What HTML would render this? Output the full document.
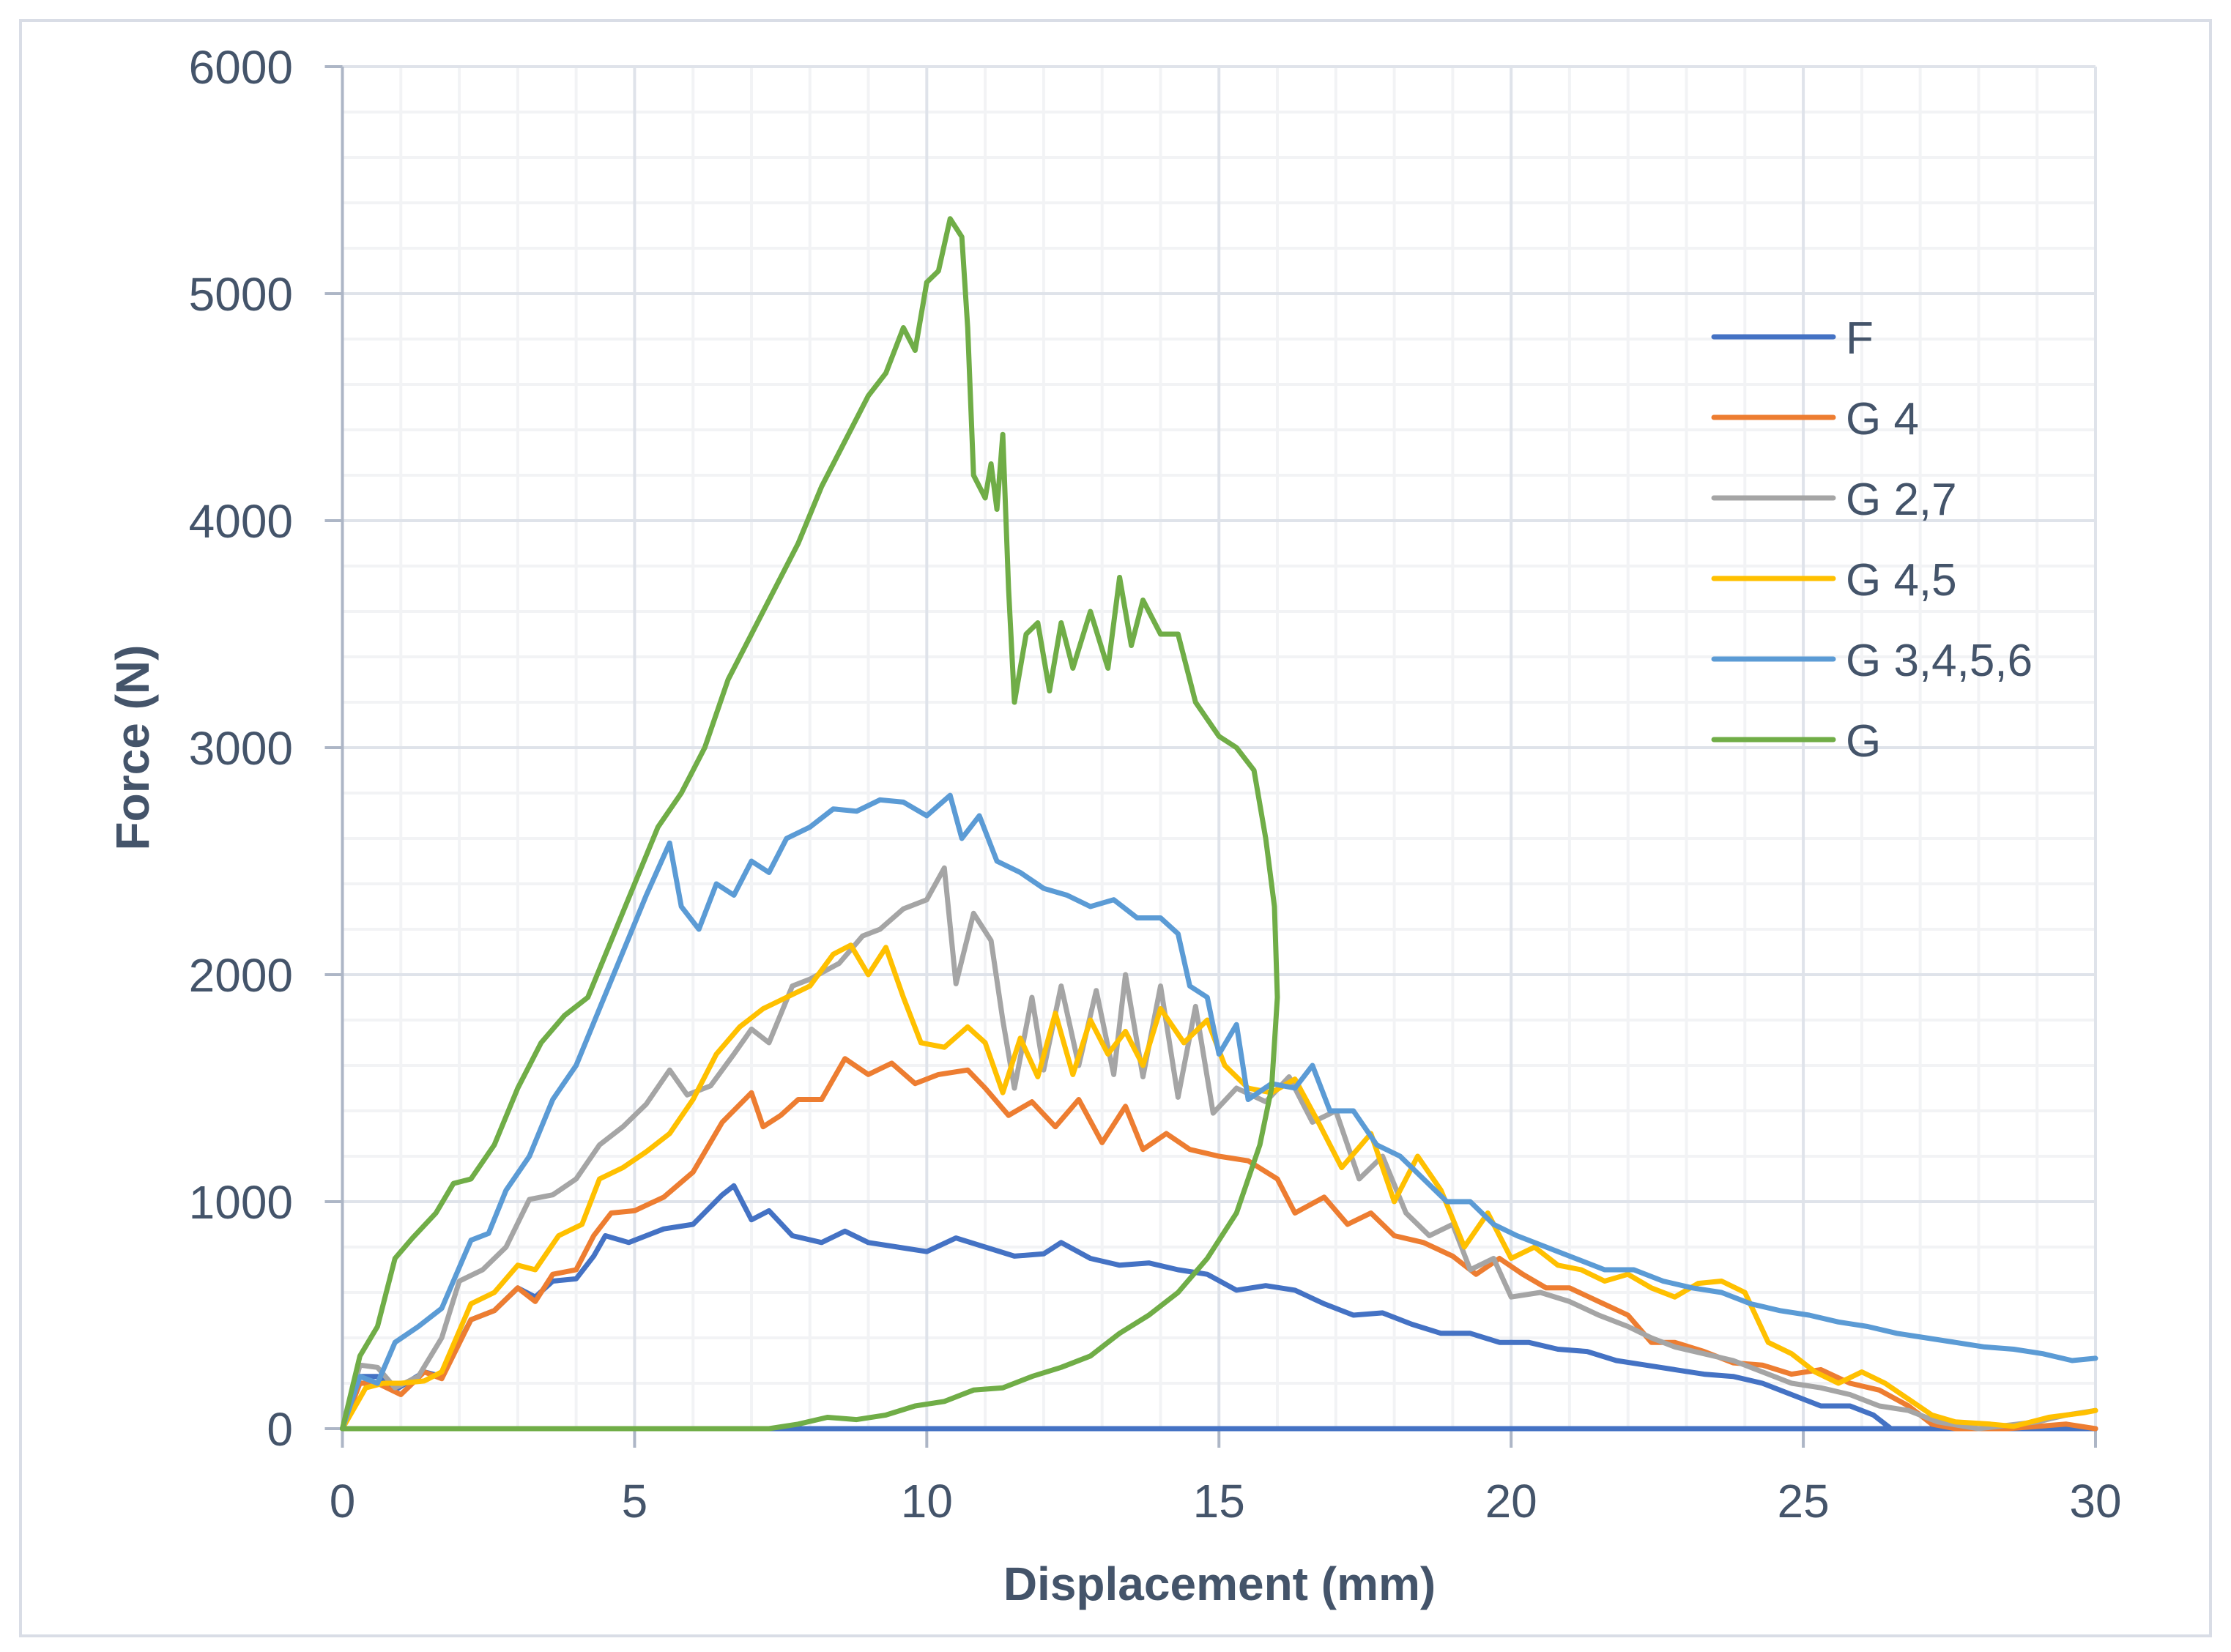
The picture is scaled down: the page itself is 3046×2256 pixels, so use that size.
<!DOCTYPE html>
<html><head><meta charset="utf-8"><style>
html,body{margin:0;padding:0;background:#fff}
svg{display:block}
text{font-family:"Liberation Sans","DejaVu Sans",sans-serif;fill:#44546a}
</style></head><body>
<svg id="chart" width="3046" height="2256" viewBox="0 0 3046 2256" xmlns="http://www.w3.org/2000/svg">
<rect x="28" y="28" width="2990" height="2206" fill="#fff" stroke="#d9dde6" stroke-width="4"/>
<g id="grid"></g>
<g id="axes"></g>
<g id="series"></g>
<text transform="translate(203,1021) rotate(-90)" text-anchor="middle" font-size="64" font-weight="bold">Force (N)</text>
<text x="1665" y="2185" text-anchor="middle" font-size="64" font-weight="bold">Displacement (mm)</text>
<g id="legend"></g>
</svg>
<script>
const xTicks=[0,5,10,15,20,25,30];
const yTicks=[0,1000,2000,3000,4000,5000,6000];
const seriesNames=["F","G 4","G 2,7","G 4,5","G 3,4,5,6","G"];
const seriesColors=["#4472c4","#ed7d31","#a5a5a5","#ffc000","#5b9bd5","#70ad47"];
const fX=[0,0.3,0.6,0.9,1.4,1.7,2.2,2.6,3.0,3.3,3.6,4.0,4.3,4.5,4.9,5.5,6.0,6.5,6.7,7.0,7.3,7.7,8.2,8.6,9.0,9.5,10.0,10.5,11.0,11.5,12.0,12.3,12.8,13.3,13.8,14.3,14.8,15.3,15.8,16.3,16.8,17.3,17.8,18.3,18.8,19.3,19.8,20.3,20.8,21.3,21.8,22.3,22.8,23.3,23.8,24.3,24.8,25.3,25.8,26.2,26.5,30];
const fY=[0,230,230,170,250,230,480,520,620,580,650,660,760,850,820,880,900,1030,1070,920,960,850,820,870,820,800,780,840,800,760,770,820,750,720,730,700,680,610,630,610,550,500,510,460,420,420,380,380,350,340,300,280,260,240,230,200,150,100,100,60,0,0];
const g4X=[0,0.3,0.6,1.0,1.4,1.7,2.2,2.6,3.0,3.3,3.6,4.0,4.3,4.6,5.0,5.5,6.0,6.5,7.0,7.2,7.5,7.8,8.2,8.6,9.0,9.4,9.8,10.2,10.7,11.0,11.4,11.8,12.2,12.6,13.0,13.4,13.7,14.1,14.5,15.0,15.5,16.0,16.3,16.8,17.2,17.6,18.0,18.5,19.0,19.4,19.8,20.2,20.6,21.0,21.5,22.0,22.4,22.8,23.3,23.8,24.3,24.8,25.3,25.8,26.3,26.8,27.2,27.6,28.5,29.5,30];
const g4Y=[0,200,200,150,250,220,480,520,620,560,680,700,850,950,960,1020,1130,1350,1480,1330,1380,1450,1450,1630,1560,1610,1520,1560,1580,1500,1380,1440,1330,1450,1260,1420,1230,1300,1230,1200,1180,1100,950,1020,900,950,850,820,760,680,750,680,620,620,560,500,380,380,340,290,280,240,260,200,170,100,20,0,0,20,0];
const g27X=[0,0.3,0.6,0.9,1.3,1.7,2.0,2.4,2.8,3.2,3.6,4.0,4.4,4.8,5.2,5.6,5.9,6.3,6.7,7.0,7.3,7.7,8.0,8.5,8.9,9.2,9.6,10.0,10.3,10.5,10.8,11.1,11.3,11.5,11.8,12.0,12.3,12.6,12.9,13.2,13.4,13.7,14.0,14.3,14.6,14.9,15.3,15.8,16.2,16.6,17.0,17.4,17.8,18.2,18.6,19.0,19.3,19.7,20.0,20.5,21.0,21.5,22.0,22.4,22.8,23.3,23.8,24.3,24.8,25.3,25.8,26.3,26.8,27.3,28.0,29.0,29.5,30];
const g27Y=[0,280,270,180,230,400,650,700,800,1010,1030,1100,1250,1330,1430,1580,1470,1510,1650,1760,1700,1950,1980,2050,2170,2200,2290,2330,2470,1960,2270,2150,1800,1500,1900,1580,1950,1600,1930,1560,2000,1550,1950,1460,1860,1390,1500,1440,1550,1350,1400,1100,1200,950,850,900,700,750,580,600,560,500,450,400,360,330,300,250,200,180,150,100,80,30,0,30,60,80];
const g45X=[0,0.4,0.7,1.0,1.4,1.7,2.2,2.6,3.0,3.3,3.7,4.1,4.4,4.8,5.2,5.6,6.0,6.4,6.8,7.2,7.6,8.0,8.4,8.7,9.0,9.3,9.6,9.9,10.3,10.7,11.0,11.3,11.6,11.9,12.2,12.5,12.8,13.1,13.4,13.7,14.0,14.4,14.8,15.1,15.5,15.9,16.3,16.7,17.1,17.6,18.0,18.4,18.8,19.2,19.6,20.0,20.4,20.8,21.2,21.6,22.0,22.4,22.8,23.2,23.6,24.0,24.4,24.8,25.2,25.6,26.0,26.4,26.8,27.2,27.6,28.2,28.6,29.2,29.8,30];
const g45Y=[0,180,200,200,210,250,550,600,720,700,850,900,1100,1150,1220,1300,1450,1650,1770,1850,1900,1950,2090,2130,2000,2120,1900,1700,1680,1770,1700,1480,1720,1550,1830,1560,1800,1650,1750,1600,1850,1700,1800,1600,1500,1480,1540,1350,1150,1300,1000,1200,1050,800,950,750,800,720,700,650,680,620,580,640,650,600,380,330,250,200,250,200,130,60,30,20,10,50,70,80];
const g3456X=[0,0.3,0.6,0.9,1.3,1.7,2.2,2.5,2.8,3.2,3.6,4.0,4.4,4.8,5.2,5.6,5.8,6.1,6.4,6.7,7.0,7.3,7.6,8.0,8.4,8.8,9.2,9.6,10.0,10.4,10.6,10.9,11.2,11.6,12.0,12.4,12.8,13.2,13.6,14.0,14.3,14.5,14.8,15.0,15.3,15.5,15.9,16.3,16.6,16.9,17.3,17.7,18.1,18.5,18.9,19.3,19.7,20.1,20.6,21.1,21.6,22.1,22.6,23.1,23.6,24.1,24.6,25.1,25.6,26.1,26.6,27.1,27.6,28.1,28.6,29.1,29.6,30];
const g3456Y=[0,230,200,380,450,530,830,860,1050,1200,1450,1600,1850,2100,2350,2580,2300,2200,2400,2350,2500,2450,2600,2650,2730,2720,2770,2760,2700,2790,2600,2700,2500,2450,2380,2350,2300,2330,2250,2250,2180,1950,1900,1650,1780,1450,1520,1500,1600,1400,1400,1250,1200,1100,1000,1000,900,850,800,750,700,700,650,620,600,550,520,500,470,450,420,400,380,360,350,330,300,310];
const gX=[0,0.3,0.6,0.9,1.2,1.6,1.9,2.2,2.6,3.0,3.4,3.8,4.2,4.6,5.0,5.4,5.8,6.2,6.6,7.0,7.4,7.8,8.2,8.6,9.0,9.3,9.6,9.8,10.0,10.2,10.4,10.6,10.7,10.8,11.0,11.1,11.2,11.3,11.4,11.5,11.7,11.9,12.1,12.3,12.5,12.8,13.1,13.3,13.5,13.7,14.0,14.3,14.6,15.0,15.3,15.6,15.8,15.95,16.0,15.9,15.7,15.3,14.8,14.3,13.8,13.3,12.8,12.3,11.8,11.3,10.8,10.3,9.8,9.3,8.8,8.3,7.8,7.3,6.5,0];
const gY=[0,320,450,750,840,950,1080,1100,1250,1500,1700,1820,1900,2150,2400,2650,2800,3000,3300,3500,3700,3900,4150,4350,4550,4650,4850,4750,5050,5100,5330,5250,4850,4200,4100,4250,4050,4380,3700,3200,3500,3550,3250,3550,3350,3600,3350,3750,3450,3650,3500,3500,3200,3050,3000,2900,2600,2300,1900,1500,1250,950,750,600,500,420,320,270,230,180,170,120,100,60,40,50,20,0,0,0];
const baseX=[0,30];
const baseY=[0,0];

const NS="http://www.w3.org/2000/svg";
const X0=467.5,X1=2861,Y0=1951,Y1=91;
function sx(v){return X0+(v-0)/(30-0)*(X1-X0);}
function sy(v){return Y0-(v-0)/(6000-0)*(Y0-Y1);}
function mk(tag,attrs,parent){const e=document.createElementNS(NS,tag);for(const k in attrs)e.setAttribute(k,attrs[k]);parent.appendChild(e);return e;}
const grid=document.getElementById('grid'),axes=document.getElementById('axes'),ser=document.getElementById('series'),leg=document.getElementById('legend');
for(let v=0;v<=30;v+=1){if(v%5===0)continue;const l=mk('line',{x1:sx(v),x2:sx(v),y1:sy(0),y2:sy(6000),stroke:'#f2f3f5','stroke-width':4},grid);

}
for(let v=0;v<=6000;v+=200){if(v%1000===0)continue;const l=mk('line',{x1:sx(0),x2:sx(30),y1:sy(v),y2:sy(v),stroke:'#f2f3f5','stroke-width':4},grid);

}
xTicks.forEach(v=>{if(v===0)return;const l=mk('line',{x1:sx(v),x2:sx(v),y1:sy(0),y2:sy(6000),stroke:'#dfe3ea','stroke-width':4},grid);

});
yTicks.forEach(v=>{if(v===0)return;const l=mk('line',{x1:sx(0),x2:sx(30),y1:sy(v),y2:sy(v),stroke:'#dfe3ea','stroke-width':4},grid);

});
const ya=mk('line',{x1:sx(0),x2:sx(0),y1:sy(6000),y2:sy(0)+26,stroke:'#adb6c6','stroke-width':4},axes);


const xa=mk('line',{x1:sx(0)-24,x2:sx(30),y1:sy(0),y2:sy(0),stroke:'#adb6c6','stroke-width':4},axes);


yTicks.forEach(v=>{const t=mk('line',{x1:sx(0)-24,x2:sx(0),y1:sy(v),y2:sy(v),stroke:'#adb6c6','stroke-width':4},axes);


const tx=mk('text',{x:400,y:sy(v)+23,'text-anchor':'end','font-size':64},axes);tx.textContent=v;

});
xTicks.forEach(v=>{const t=mk('line',{x1:sx(v),x2:sx(v),y1:sy(0),y2:sy(0)+26,stroke:'#adb6c6','stroke-width':4},axes);


const tx=mk('text',{x:sx(v),y:2072,'text-anchor':'middle','font-size':64},axes);tx.textContent=v;

});
function draw(xs,ys,color,name){const pts=xs.map((x,i)=>sx(x).toFixed(1)+','+sy(ys[i]).toFixed(1)).join(' ');
const p=mk('polyline',{points:pts,fill:'none',stroke:color,'stroke-width':7,'stroke-linejoin':'round','stroke-linecap':'round'},ser);

}
draw(baseX,baseY,seriesColors[0],'series-baseline');
draw(fX,fY,seriesColors[0],'series-f');
draw(g4X,g4Y,seriesColors[1],'series-g4');
draw(g27X,g27Y,seriesColors[2],'series-g2-7');
draw(g45X,g45Y,seriesColors[3],'series-g4-5');
draw(g3456X,g3456Y,seriesColors[4],'series-g3-4-5-6');
draw(gX,gY,seriesColors[5],'series-g');
seriesNames.forEach((n,i)=>{const y=460+i*110;
const l=mk('line',{x1:2340,x2:2503,y1:y,y2:y,stroke:seriesColors[i],'stroke-width':7,'stroke-linecap':'round'},leg);


const t=mk('text',{x:2520,y:y+23,'font-size':62},leg);t.textContent=n;

});
</script>
</body></html>
